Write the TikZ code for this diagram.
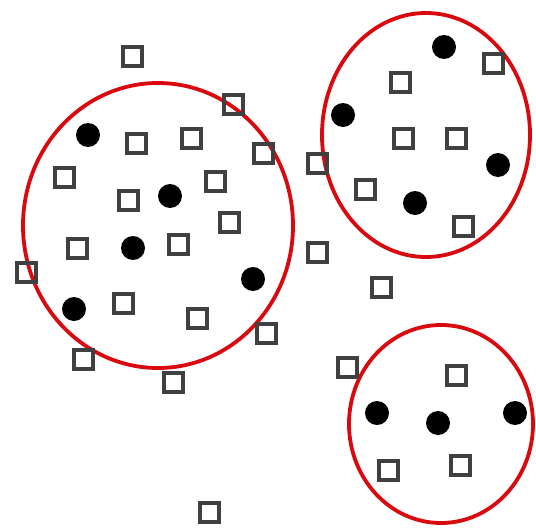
\documentclass[tikz,border=0pt]{standalone}
\usetikzlibrary{shapes.geometric}
\definecolor{sqgray}{RGB}{64,64,64}
\definecolor{ringred}{RGB}{216,10,16}
\tikzset{
  sq/.style={draw=sqgray, line width=4pt, minimum size=19pt, inner sep=0pt, rectangle},
  dot/.style={circle, fill=black, minimum size=24pt, inner sep=0pt},
  ring/.style={ellipse, draw=ringred, line width=3.8pt, inner sep=0pt}
}
\begin{document}
\begin{tikzpicture}[x=1pt,y=-1pt]
\useasboundingbox[fill=white] (0,0) rectangle (536,530);
% clusters
\node[ring, minimum width=270pt, minimum height=285pt] (c1) at (158,225.5) {};
\node[ring, minimum width=208pt, minimum height=244pt] (c2) at (426,135) {};
\node[ring, minimum width=184pt, minimum height=198pt] (c3) at (441,424) {};
% squares
\node[sq] (s1) at (132,56) {};
\node[sq] (s2) at (233,104) {};
\node[sq] (s3) at (263,153) {};
\node[sq] (s4) at (136,143) {};
\node[sq] (s5) at (191,138) {};
\node[sq] (s6) at (64,177) {};
\node[sq] (s7) at (215,181) {};
\node[sq] (s8) at (128,200) {};
\node[sq] (s9) at (229,222) {};
\node[sq] (s10) at (77,248) {};
\node[sq] (s11) at (178,244) {};
\node[sq] (s12) at (26,272) {};
\node[sq] (s13) at (123,303) {};
\node[sq] (s14) at (197,318) {};
\node[sq] (s15) at (266,333) {};
\node[sq] (s16) at (83,359) {};
\node[sq] (s17) at (173,382) {};
\node[sq] (s18) at (209,512) {};
\node[sq] (s19) at (493,63) {};
\node[sq] (s20) at (400,82) {};
\node[sq] (s21) at (403,138) {};
\node[sq] (s22) at (456,138) {};
\node[sq] (s23) at (317,163) {};
\node[sq] (s24) at (365,189) {};
\node[sq] (s25) at (463,226) {};
\node[sq] (s26) at (317,252) {};
\node[sq] (s27) at (381,287) {};
\node[sq] (s28) at (347,367) {};
\node[sq] (s29) at (456,375) {};
\node[sq] (s30) at (388,470) {};
\node[sq] (s31) at (460,465) {};
% dots
\node[dot] (d1) at (88,135) {};
\node[dot] (d2) at (170,196) {};
\node[dot] (d3) at (133,248) {};
\node[dot] (d4) at (253,279) {};
\node[dot] (d5) at (74,309) {};
\node[dot] (d6) at (444,47) {};
\node[dot] (d7) at (343,115) {};
\node[dot] (d8) at (498,165) {};
\node[dot] (d9) at (415,203) {};
\node[dot] (d10) at (377,413) {};
\node[dot] (d11) at (438,423) {};
\node[dot] (d12) at (515,413) {};
\end{tikzpicture}
\end{document}
